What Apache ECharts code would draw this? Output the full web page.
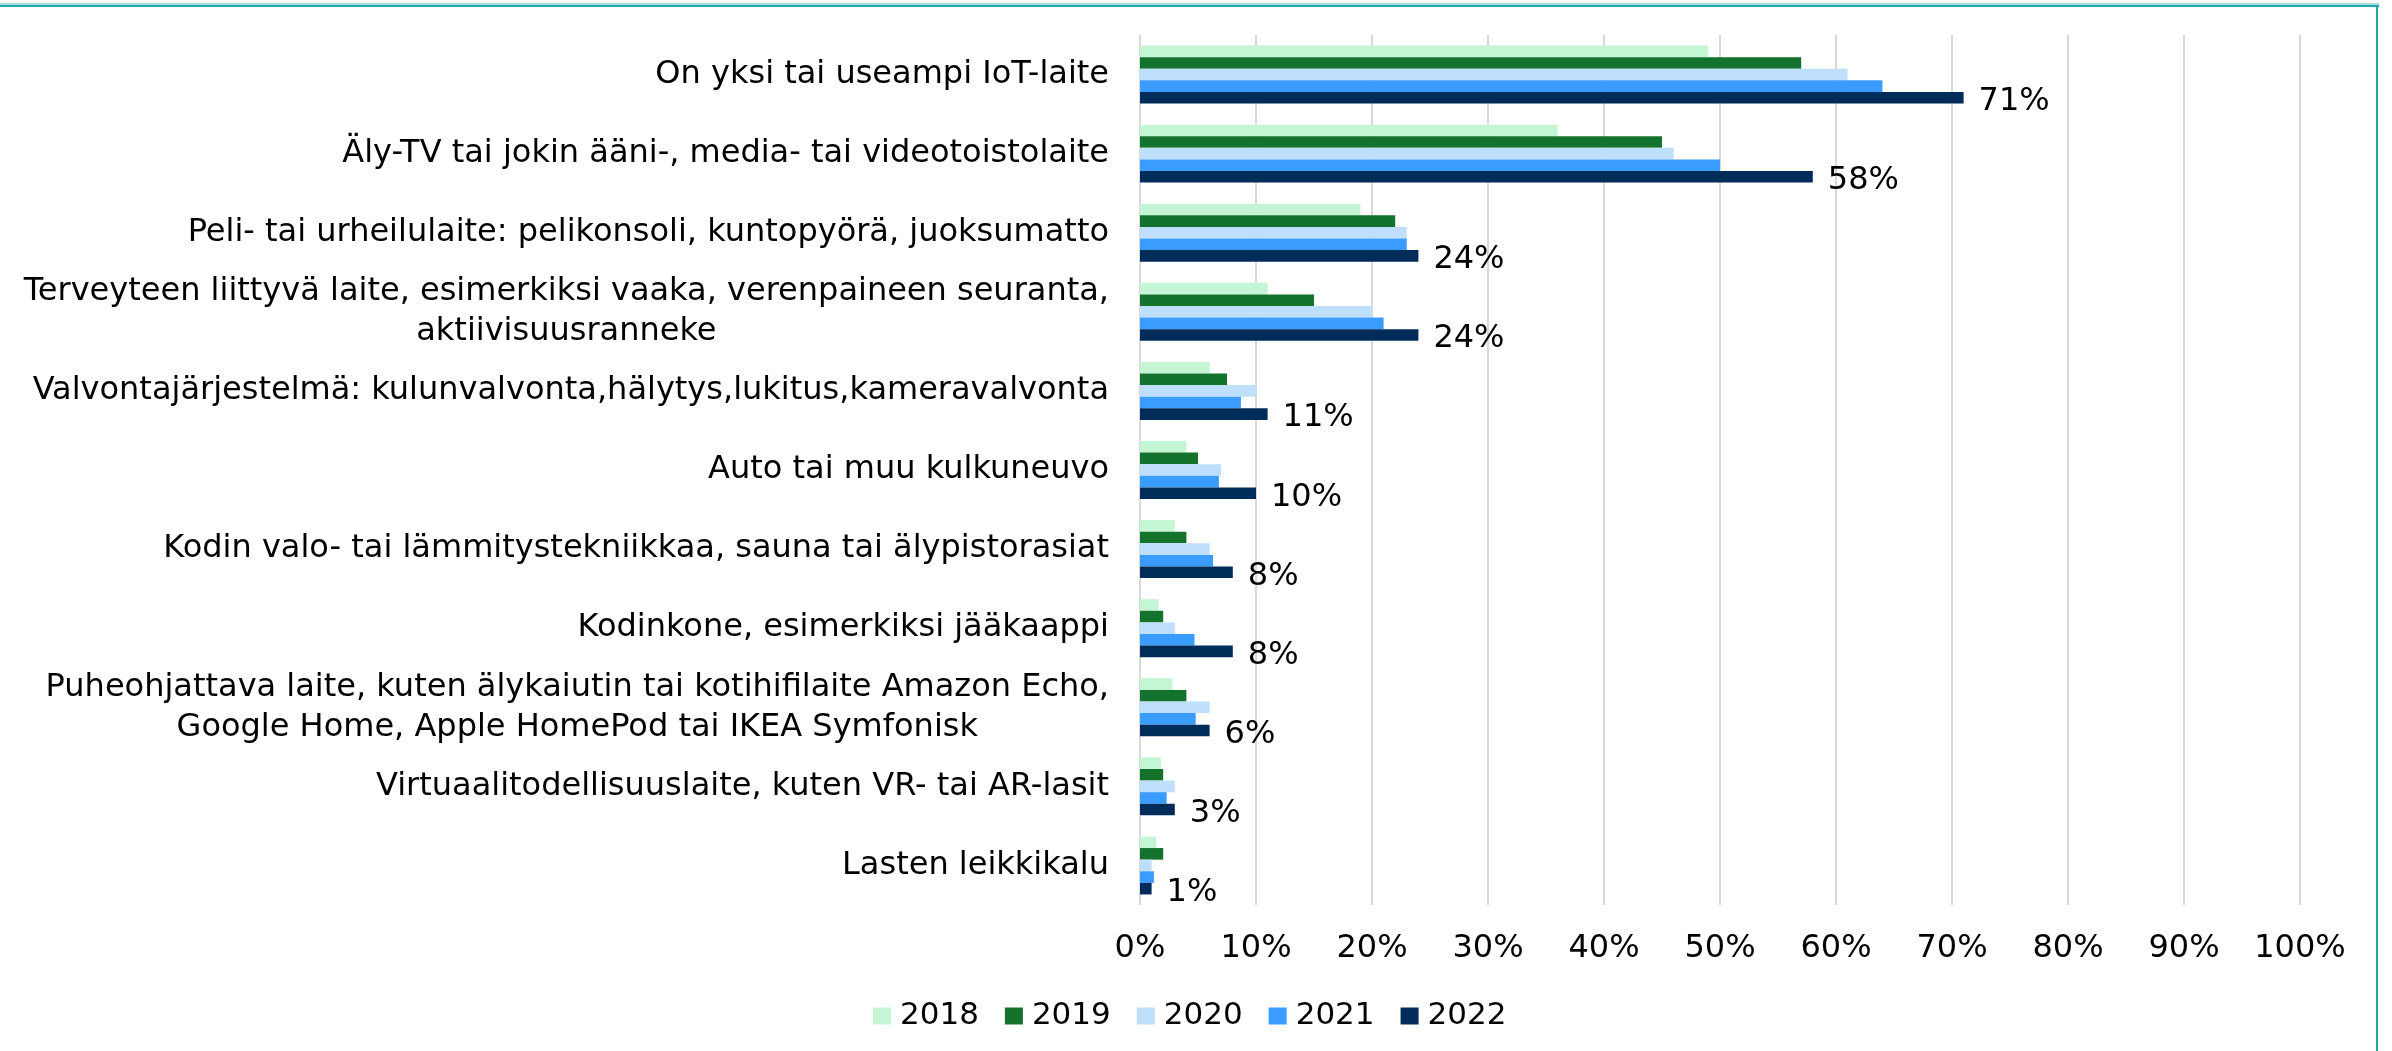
<!DOCTYPE html>
<html>
<head>
<meta charset="utf-8">
<script src="https://cdn.jsdelivr.net/npm/echarts@6/dist/echarts.min.js"></script>
<style>
  html, body { margin: 0; padding: 0; background: #fff; }
  #chart { width: 2392px; height: 1051px; }
</style>
</head>
<body>
<div id="chart"></div>
<script>
// categories, top to bottom
const categories = [
  'On yksi tai useampi IoT-laite',
  'Äly-TV tai jokin ääni-, media- tai videotoistolaite',
  'Peli- tai urheilulaite: pelikonsoli, kuntopyörä, juoksumatto',
  'Terveyteen liittyvä laite, esimerkiksi vaaka, verenpaineen seuranta,\naktiivisuusranneke',
  'Valvontajärjestelmä: kulunvalvonta,hälytys,lukitus,kameravalvonta',
  'Auto tai muu kulkuneuvo',
  'Kodin valo- tai lämmitystekniikkaa, sauna tai älypistorasiat',
  'Kodinkone, esimerkiksi jääkaappi',
  'Puheohjattava laite, kuten älykaiutin tai kotihifilaite Amazon Echo,\nGoogle Home, Apple HomePod tai IKEA Symfonisk',
  'Virtuaalitodellisuuslaite, kuten VR- tai AR-lasit',
  'Lasten leikkikalu'
];

const years = ['2018', '2019', '2020', '2021', '2022'];

const values2018 = [49, 36, 19, 11, 6, 4, 3, 1.6, 2.8, 1.8, 1.4];
const values2019 = [57, 45, 22, 15, 7.5, 5, 4, 2, 4, 2, 2];
const values2020 = [61, 46, 23, 20, 10, 7, 6, 3, 6, 3, 1];
const values2021 = [64, 50, 23, 21, 8.7, 6.8, 6.3, 4.7, 4.8, 2.3, 1.2];
const values2022 = [71, 58, 24, 24, 11, 10, 8, 8, 6, 3, 1];

const xTicks = ['0%', '10%', '20%', '30%', '40%', '50%', '60%', '70%', '80%', '90%', '100%'];

const colors = ['#C4F5D4', '#13722B', '#BEDFFE', '#3B9CFF', '#002C5A'];
const seriesValues = [values2018, values2019, values2020, values2021, values2022];

const font = 'DejaVu Sans';

const chart = echarts.init(document.getElementById('chart'));

const series = years.map(function (y, i) {
  const s = {
    name: y,
    type: 'bar',
    data: seriesValues[i],
    itemStyle: { color: colors[i] },
    barGap: '0%',
    barCategoryGap: '26.7%'
  };
  if (i === years.length - 1) {
    s.label = {
      show: true,
      position: 'right',
      distance: 15,
      formatter: '{c}%',
      color: '#000',
      fontFamily: font,
      fontSize: 32,
      offset: [0, 4]
    };
  }
  return s;
});

const option = {
  animation: false,
  backgroundColor: '#fff',
  color: colors,
  grid: {
    left: 1140,
    right: 92,
    top: 35,
    bottom: 146,
    containLabel: false
  },
  xAxis: {
    type: 'value',
    min: 0,
    max: 100,
    interval: 10,
    axisLine: { show: false },
    axisTick: { show: false },
    splitLine: { lineStyle: { color: '#D9D9D9', width: 2 } },
    axisLabel: {
      margin: 28,
      color: '#000',
      fontFamily: font,
      fontSize: 32,
      formatter: function (v) { return xTicks[Math.round(v / 10)]; }
    }
  },
  yAxis: {
    type: 'category',
    inverse: true,
    data: categories,
    axisLine: { show: false },
    axisTick: { show: false },
    axisLabel: {
      margin: 31,
      color: '#000',
      fontFamily: font,
      fontSize: 32,
      lineHeight: 40,
      formatter: function (v) {
        return v.split('\n').map(function (l) { return '{c|' + l + '}'; }).join('\n');
      },
      rich: {
        c: { align: 'center', fontFamily: font, fontSize: 32, lineHeight: 40, color: '#000' }
      }
    }
  },
  legend: {
    data: years,
    left: 868,
    top: 993,
    itemWidth: 18,
    itemHeight: 17,
    itemGap: 26,
    icon: 'rect',
    textStyle: {
      color: '#000',
      fontFamily: font,
      fontSize: 31,
      lineHeight: 36,
      padding: [0, 0, 0, 4]
    }
  },
  graphic: [
    { type: 'rect', shape: { x: 0, y: 3, width: 2379, height: 2 }, style: { fill: '#A6DCDC' }, silent: true },
    { type: 'rect', shape: { x: 0, y: 5, width: 2379, height: 2 }, style: { fill: '#1FAAAA' }, silent: true },
    { type: 'rect', shape: { x: 2376, y: 5, width: 2, height: 1046 }, style: { fill: '#1FAAAA' }, silent: true }
  ],
  series: series
};

chart.setOption(option);
</script>
</body>
</html>
